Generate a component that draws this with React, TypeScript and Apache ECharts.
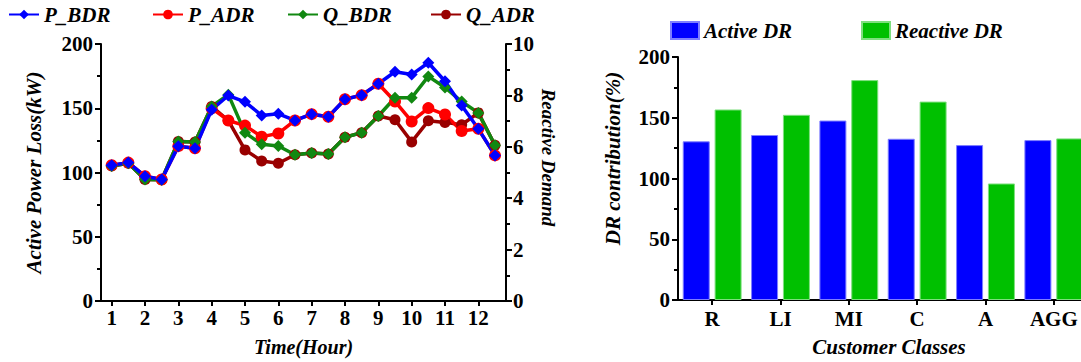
import React, { useEffect, useRef } from 'react';
import * as echarts from 'echarts';

const hours = [1, 1.5, 2, 2.5, 3, 3.5, 4, 4.5, 5, 5.5, 6, 6.5, 7, 7.5, 8, 8.5, 9, 9.5, 10, 10.5, 11, 11.5, 12, 12.5];
const pBDR = [105.7, 107.7, 97.1, 94.6, 120.5, 118.8, 148.8, 159.9, 155, 144.4, 145.7, 140.5, 145.4, 143.4, 157, 160.2, 169.1, 178.4, 176.2, 185.4, 171, 152.1, 134, 113.3];
const pADR = [105.7, 107.7, 97.1, 94.6, 120.5, 118.8, 150, 140.5, 136.5, 127.9, 130.4, 140.5, 145.4, 143.4, 157, 160.2, 169.1, 155.3, 139.7, 150.1, 145.1, 132.3, 134, 113.3];
const qBDR = [5.25, 5.36, 4.73, 4.72, 6.21, 6.19, 7.57, 8.03, 6.55, 6.1, 6.03, 5.69, 5.76, 5.72, 6.37, 6.55, 7.2, 7.91, 7.91, 8.74, 8.31, 7.76, 7.32, 6.06];
const qADR = [5.25, 5.36, 4.73, 4.72, 6.21, 6.19, 7.57, 7.02, 5.88, 5.45, 5.36, 5.69, 5.76, 5.72, 6.37, 6.55, 7.2, 7.05, 6.19, 7.01, 6.95, 6.86, 7.32, 6.06];
const hourTicks = [1, 2, 3, 4, 5, 6, 7, 8, 9, 10, 11, 12];

const classes = ['R', 'LI', 'MI', 'C', 'A', 'AGG'];
const activeDR = [130.6, 135.8, 147.7, 132.7, 127.5, 131.6];
const reactiveDR = [156.8, 152.4, 181, 163.3, 95.9, 133];

const FONT = 'Liberation Serif';
const CHART_W = 1100;

export default function App() {
  const ref = useRef<HTMLDivElement>(null);

  useEffect(() => {
    document.body.style.margin = '0';
    if (!ref.current) return;
    const chart = echarts.init(ref.current, undefined, { renderer: 'svg' });

    const tickLabel = { color: '#000', fontSize: 21, fontWeight: 'bold' as const, fontFamily: FONT };
    const nameStyle = { color: '#000', fontSize: 21, fontWeight: 'bold' as const, fontStyle: 'italic' as const, fontFamily: FONT };
    const axisLine = { show: true, lineStyle: { color: '#000', width: 2 } };
    const legendText = { color: '#000', fontSize: 21, fontWeight: 'bold' as const, fontStyle: 'italic' as const, fontFamily: FONT };

    const mk = (arr: number[]) => hours.map((h, i) => [h, arr[i]]);

    const lineLegend = (name: string, left: number) => ({
      data: [name],
      left,
      top: 4,
      itemWidth: 30,
      itemHeight: 12,
      itemGap: 0,
      textStyle: legendText,
      padding: 0,
    });
    const barLegend = (name: string, left: number) => ({
      data: [name],
      left,
      top: 20,
      itemWidth: 28,
      itemHeight: 17,
      icon: 'rect',
      textStyle: legendText,
      padding: 0,
    });

    const option: any = {
      animation: false,
      backgroundColor: '#fff',
      textStyle: { fontFamily: FONT },
      legend: [
        lineLegend('P_BDR', 8),
        lineLegend('P_ADR', 152),
        lineLegend('Q_BDR', 287),
        lineLegend('Q_ADR', 430),
        barLegend('Active DR', 670),
        barLegend('Reactive DR', 861),
      ],
      grid: [
        { left: 101, right: CHART_W - 506, top: 44, bottom: 48 },
        { left: 678, right: CHART_W - 1088, top: 57, bottom: 48 },
      ],
      xAxis: [
        {
          type: 'value',
          gridIndex: 0,
          min: 0.68,
          max: 12.83,
          axisLine,
          axisTick: { show: true, length: 5, lineStyle: { color: '#000', width: 2 }, customValues: hourTicks },
          axisLabel: { ...tickLabel, margin: 6, customValues: hourTicks },
          splitLine: { show: false },
          name: 'Time(Hour)',
          nameLocation: 'middle',
          nameGap: 36,
          nameTextStyle: { ...nameStyle, fontSize: 20 },
        },
        {
          type: 'category',
          gridIndex: 1,
          data: classes,
          axisLine,
          axisTick: { show: true, alignWithLabel: true, length: 5, lineStyle: { color: '#000', width: 2 } },
          axisLabel: { ...tickLabel, margin: 8 },
          name: 'Customer Classes',
          nameLocation: 'middle',
          nameGap: 36,
          nameTextStyle: { ...nameStyle, padding: [0, 0, 0, 12] },
        },
      ],
      yAxis: [
        {
          type: 'value',
          gridIndex: 0,
          position: 'left',
          min: 0,
          max: 200,
          interval: 50,
          axisLine,
          axisTick: { show: true, length: 6, lineStyle: { color: '#000', width: 2 } },
          minorTick: { show: true, splitNumber: 2, length: 4, lineStyle: { color: '#000', width: 2 } },
          axisLabel: { ...tickLabel, margin: 8 },
          splitLine: { show: false },
          name: 'Active Power Loss(kW)',
          nameLocation: 'middle',
          nameGap: 57,
          nameTextStyle: nameStyle,
        },
        {
          type: 'value',
          gridIndex: 0,
          position: 'right',
          min: 0,
          max: 10,
          interval: 2,
          axisLine,
          axisTick: { show: true, length: 6, lineStyle: { color: '#000', width: 2 } },
          minorTick: { show: true, splitNumber: 2, length: 4, lineStyle: { color: '#000', width: 2 } },
          axisLabel: { ...tickLabel, margin: 7 },
          splitLine: { show: false },
          name: 'Reactive Demand',
          nameLocation: 'middle',
          nameGap: 33,
          nameRotate: -90,
          nameTextStyle: { ...nameStyle, fontSize: 19, padding: [0, 30, 0, 0] },
        },
        {
          type: 'value',
          gridIndex: 1,
          min: 0,
          max: 200,
          interval: 50,
          axisLine,
          axisTick: { show: true, length: 6, lineStyle: { color: '#000', width: 2 } },
          minorTick: { show: true, splitNumber: 2, length: 4, lineStyle: { color: '#000', width: 2 } },
          axisLabel: { ...tickLabel, margin: 8 },
          splitLine: { show: false },
          name: 'DR contribution(%)',
          nameLocation: 'middle',
          nameGap: 55,
          nameTextStyle: { ...nameStyle, padding: [0, 0, 0, 40] },
        },
      ],
      series: [
        {
          name: 'Q_ADR', type: 'line', xAxisIndex: 0, yAxisIndex: 1, data: mk(qADR),
          symbol: 'circle', symbolSize: 11, color: '#990000',
          lineStyle: { width: 3.5, color: '#990000' }, itemStyle: { color: '#990000' },
        },
        {
          name: 'P_ADR', type: 'line', xAxisIndex: 0, yAxisIndex: 0, data: mk(pADR),
          symbol: 'circle', symbolSize: 12, color: '#ff0000',
          lineStyle: { width: 3.5, color: '#ff0000' }, itemStyle: { color: '#ff0000' },
        },
        {
          name: 'Q_BDR', type: 'line', xAxisIndex: 0, yAxisIndex: 1, data: mk(qBDR),
          symbol: 'diamond', symbolSize: 12, color: '#118811',
          lineStyle: { width: 3.5, color: '#118811' }, itemStyle: { color: '#118811' },
        },
        {
          name: 'P_BDR', type: 'line', xAxisIndex: 0, yAxisIndex: 0, data: mk(pBDR),
          symbol: 'diamond', symbolSize: 12, color: '#0000ff',
          lineStyle: { width: 3.5, color: '#0000ff' }, itemStyle: { color: '#0000ff' },
        },
        {
          name: 'Active DR', type: 'bar', xAxisIndex: 1, yAxisIndex: 2, data: activeDR,
          barWidth: 27, barGap: '18%', color: '#0000ff',
          itemStyle: { color: '#0000ff', borderColor: '#7f7fff', borderWidth: 1 },
        },
        {
          name: 'Reactive DR', type: 'bar', xAxisIndex: 1, yAxisIndex: 2, data: reactiveDR,
          barWidth: 27, barGap: '18%', color: '#00c000',
          itemStyle: { color: '#00c000', borderColor: '#7fdf7f', borderWidth: 1 },
        },
      ],
    };

    chart.setOption(option);
    return () => chart.dispose();
  }, []);

  return (
    <div style={{ width: 1081, height: 362, overflow: 'hidden', position: 'relative' }}>
      <div ref={ref} style={{ width: CHART_W, height: 362 }} />
    </div>
  );
}
